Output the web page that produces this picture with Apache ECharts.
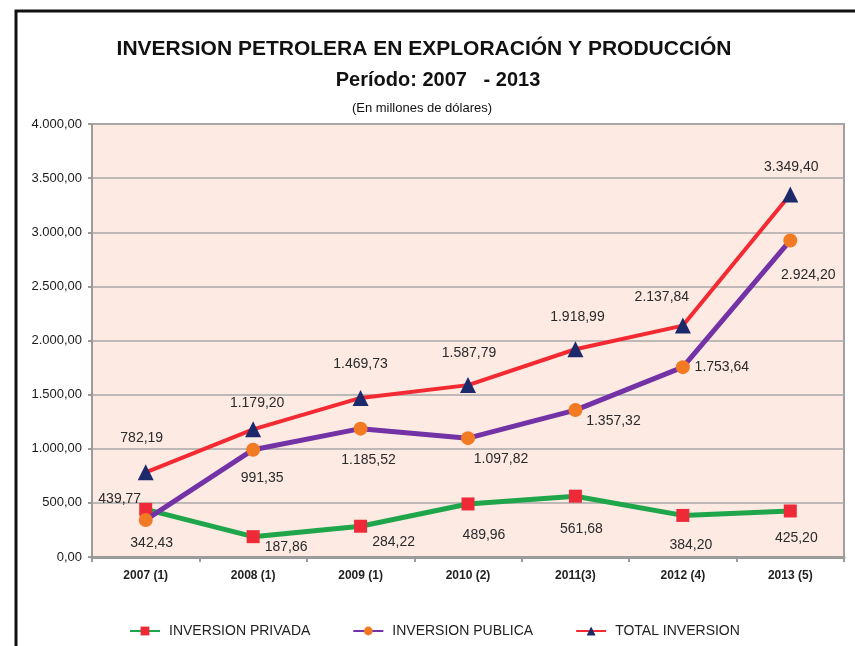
<!DOCTYPE html>
<html>
<head>
<meta charset="utf-8">
<script src="https://cdn.jsdelivr.net/npm/echarts@6/dist/echarts.min.js"></script>
<style>
  html, body { margin: 0; padding: 0; background: #fff; }
  #chart { width: 855px; height: 646px; }
</style>
</head>
<body>
<div id="chart"></div>
<script>
// data
const years = ['2007 (1)', '2008 (1)', '2009 (1)', '2010 (2)', '2011(3)', '2012 (4)', '2013 (5)']
const privada = [439.77, 187.86, 284.22, 489.96, 561.68, 384.20, 425.20]
const publica = [342.43, 991.35, 1185.52, 1097.82, 1357.32, 1753.64, 2924.20]
const total = [782.19, 1179.20, 1469.73, 1587.79, 1918.99, 2137.84, 3349.40]
const seriesNames = ['INVERSION PRIVADA', 'INVERSION PUBLICA', 'TOTAL INVERSION']

// where each value label sits relative to its marker (px)
const privadaLabelPos = [[-26, -10], [33, 10], [33, 16], [16, 31], [6, 33], [8, 30], [6, 27]]
const publicaLabelPos = [[6, 23], [9, 28], [8, 31], [33, 21], [38, 11], [39, 0], [18, 35]]
const totalLabelPos = [[-4, -34], [4, -26], [0, -34], [1, -32], [2, -32], [-21, -28], [1, -27]]

const FONT = '"Liberation Sans", Arial, sans-serif'

// 1179.2 -> "1.179,20"
function fmt(v) {
  const parts = Number(v).toFixed(2).split('.')
  return parts[0].replace(/\B(?=(\d{3})+(?!\d))/g, '.') + ',' + parts[1]
}

function withLabels(values, pos) {
  return values.map((v, i) => ({ value: v, label: { offset: pos[i] } }))
}

const labelStyle = {
  show: true,
  position: 'inside',
  formatter: p => fmt(p.value),
  fontFamily: FONT,
  fontSize: 14,
  color: '#2a2a2a'
}

let myChart = echarts.init(document.getElementById('chart'), null, { renderer: 'canvas' })

const option = {
  animation: false,
  backgroundColor: '#fff',
  textStyle: { fontFamily: FONT },
  title: [
    {
      text: 'INVERSION PETROLERA EN EXPLORACIÓN Y PRODUCCIÓN',
      left: 419, top: 34, textAlign: 'center',
      textStyle: { fontFamily: FONT, fontSize: 21, fontWeight: 'bold', color: '#111' }
    },
    {
      text: 'Período: 2007   - 2013',
      left: 433, top: 65, textAlign: 'center',
      textStyle: { fontFamily: FONT, fontSize: 20, fontWeight: 'bold', color: '#111' }
    },
    {
      text: '(En millones de dólares)',
      left: 417, top: 97, textAlign: 'center',
      textStyle: { fontFamily: FONT, fontSize: 13, fontWeight: 'normal', color: '#111' }
    }
  ],
  graphic: [{
    type: 'rect',
    shape: { x: 16, y: 11, width: 900, height: 700 },
    style: { fill: 'none', stroke: '#111', lineWidth: 3 },
    silent: true
  }],
  legend: {
    left: 124, top: 619,
    itemWidth: 30, itemHeight: 11, itemGap: 42,
    textStyle: { fontFamily: FONT, fontSize: 14, color: '#222', padding: [0, 0, 0, 4] },
    data: seriesNames
  },
  grid: {
    left: 92, right: 11, top: 124, bottom: 89,
    show: true, backgroundColor: '#fdeae3',
    borderColor: '#a0a0a0', borderWidth: 2
  },
  xAxis: {
    type: 'category',
    data: years,
    boundaryGap: true,
    axisLine: { lineStyle: { color: '#9b9b9b', width: 3 } },
    axisTick: { show: true, length: 5, lineStyle: { color: '#9b9b9b', width: 2 } },
    axisLabel: { fontFamily: FONT, fontSize: 12, fontWeight: 'bold', color: '#222', margin: 13 }
  },
  yAxis: {
    type: 'value',
    min: 0, max: 4000, interval: 500,
    axisLine: { show: true, lineStyle: { color: '#9b9b9b', width: 2 } },
    axisTick: { show: true, length: 4, lineStyle: { color: '#9b9b9b', width: 2 } },
    axisLabel: { fontFamily: FONT, fontSize: 13, color: '#1a1a1a', margin: 10, formatter: v => fmt(v) },
    splitLine: { lineStyle: { color: '#a8a8a8', width: 1.5 } }
  },
  series: [
    {
      name: seriesNames[0], type: 'line',
      data: withLabels(privada, privadaLabelPos),
      symbol: 'rect', symbolSize: 13,
      lineStyle: { color: '#1fa64b', width: 5 },
      itemStyle: { color: '#ee2a38' },
      label: labelStyle, z: 2
    },
    {
      name: seriesNames[1], type: 'line',
      data: withLabels(publica, publicaLabelPos),
      symbol: 'circle', symbolSize: 14,
      lineStyle: { color: '#7332a6', width: 5 },
      itemStyle: { color: '#f27a22' },
      label: labelStyle, z: 3
    },
    {
      name: seriesNames[2], type: 'line',
      data: withLabels(total, totalLabelPos),
      symbol: 'triangle', symbolSize: 16,
      lineStyle: { color: '#f42a32', width: 4 },
      itemStyle: { color: '#1c2a6c' },
      label: labelStyle, z: 4
    }
  ]
}

myChart.setOption(option)
window.onresize = function() {
  myChart.resize()
}
</script>
</body>
</html>
